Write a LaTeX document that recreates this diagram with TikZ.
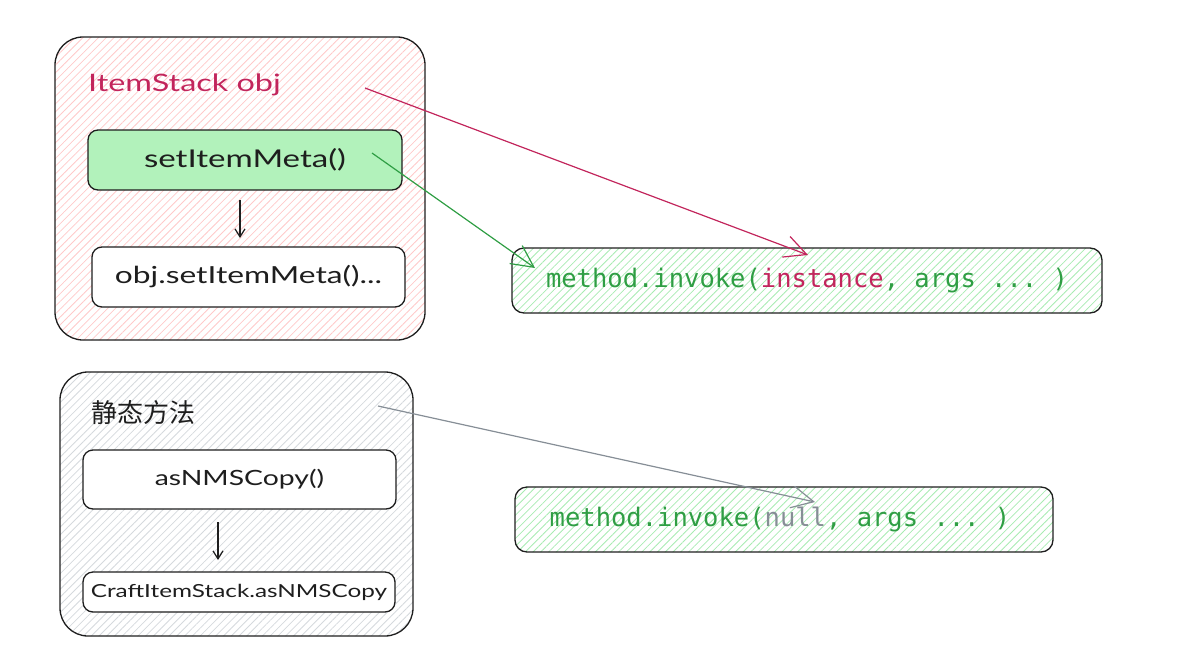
\documentclass[tikz,border=0pt]{standalone}
\usepackage{fontspec}
\setmainfont{Lato}
\newfontfamily\hand[FakeStretch=1.35]{Lato}
\setmonofont{DejaVu Sans Mono}
\newfontfamily\cjk{Noto Sans CJK SC}
\usetikzlibrary{patterns.meta,arrows.meta}
\definecolor{ink}{HTML}{1E1E1E}
\definecolor{crim}{HTML}{C2255C}
\definecolor{grn}{HTML}{2F9E44}
\definecolor{lgrn}{HTML}{B2F2BB}
\definecolor{gry}{HTML}{868E96}
\definecolor{pinkh}{HTML}{FFC9C9}
\definecolor{grayh}{HTML}{D5D9DD}
\definecolor{grnh}{HTML}{A8EBB2}
\tikzset{
  outerbox/.style={draw=ink, line width=1.3pt, rounded corners=28pt, inner sep=0pt},
  innerbox/.style={draw=ink, line width=1.3pt, rounded corners=10pt, inner sep=0pt, text=ink},
  hatch/.style={pattern={Lines[angle=45,distance=5.5pt,line width=0.8pt]}, pattern color=#1},
  codebox/.style={draw=ink, line width=1.3pt, rounded corners=12pt, inner sep=0pt, font=\ttfamily\fontsize{25.5}{28}\selectfont, text=grn, hatch=grnh},
  conn/.style={line width=1.2pt, -{Straight Barb[length=22pt,width=22pt,line width=1.2pt]}},
  downarr/.style={draw=ink, line width=1.2pt, -{Straight Barb[length=8pt,width=10pt]}},
}
\begin{document}
\begin{tikzpicture}[x=1pt,y=-1pt]
\useasboundingbox (0,0) rectangle (1192,665);
% group 1
\node[outerbox, minimum width=370pt, minimum height=303pt, hatch=pinkh] (g1) at (240,188.5) {};
\node[anchor=west, text=crim, font=\hand\fontsize{24}{28}\selectfont, inner sep=0pt] (t1) at (88,85) {ItemStack obj};
\node[innerbox, fill=lgrn, minimum width=314pt, minimum height=60pt, font=\hand\fontsize{24.5}{28}\selectfont] (b1) at (245,160) {setItemMeta()};
\node[innerbox, fill=white, minimum width=313pt, minimum height=60pt, font=\hand\fontsize{23.5}{28}\selectfont] (b2) at (248.5,277) {obj.setItemMeta()...};
\coordinate (e0) at (240,200);
\coordinate (e1) at (240,238);
\draw[downarr] (e0) -- (e1);
% group 2
\node[outerbox, minimum width=353pt, minimum height=264pt, hatch=grayh] (g2) at (236.5,504) {};
\node[anchor=west, text=ink, font=\cjk\fontsize{26}{30}\selectfont, inner sep=0pt] (t2) at (91,413) {静态方法};
\node[innerbox, fill=white, minimum width=313pt, minimum height=59pt, font=\hand\fontsize{21}{24}\selectfont] (b3) at (239.5,479.5) {asNMSCopy()};
\node[innerbox, fill=white, minimum width=312pt, minimum height=40pt, font=\hand\fontsize{18}{20}\selectfont] (b4) at (239,592) {CraftItemStack.asNMSCopy};
\coordinate (d0) at (218,522);
\coordinate (d1) at (218,560);
\draw[downarr] (d0) -- (d1);
% code boxes
\node[codebox, minimum width=590pt, minimum height=65pt] (c1) at (807,280.5) {method.invoke(\textcolor{crim}{instance}, args ... )};
\node[codebox, minimum width=538pt, minimum height=65pt] (c2) at (784,519.5) {\hspace*{-8pt}method.invoke(\textcolor{gry}{null}, args ... )};
% connectors
\coordinate (r0) at (365,88);
\coordinate (r1) at (808,255);
\draw[conn, draw=crim] (r0) -- (r1);
\coordinate (q0) at (372,153);
\coordinate (q1) at (535,268);
\draw[conn, draw=grn] (q0) -- (q1);
\coordinate (p0) at (378,406);
\coordinate (p1) at (815,502);
\draw[conn, draw=gry] (p0) -- (p1);
\end{tikzpicture}
\end{document}
